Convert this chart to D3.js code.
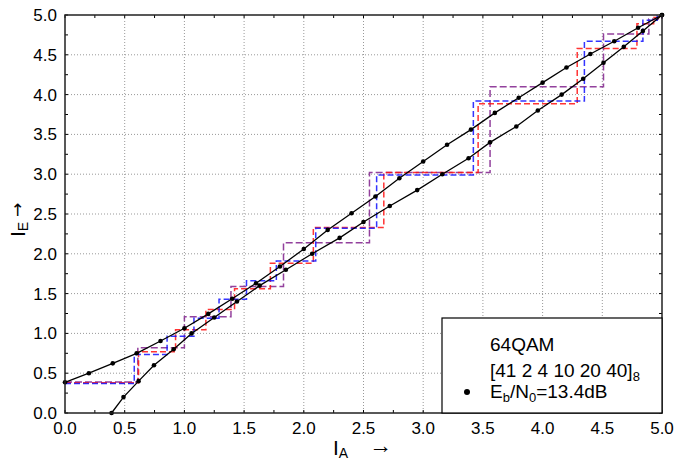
<!DOCTYPE html>
<html>
<head>
<meta charset="utf-8">
<script src="https://cdn.jsdelivr.net/npm/d3@7"></script>
<style>
  body { margin: 0; background: #fff; }
  text { font-family: "Liberation Sans", Arial, sans-serif; fill: #000; }
</style>
</head>
<body>
<div id="chart"></div>
<script>
// EXIT chart data
const gridVals = [0, 0.2, 0.4, 0.6, 0.8, 1.0, 1.2, 1.4, 1.6, 1.8, 2.0, 2.2, 2.4,
  2.6, 2.8, 3.0, 3.2, 3.4, 3.6, 3.8, 4.0, 4.2, 4.4, 4.6, 4.8, 5.0];
// demapper curve: IE at each IA of gridVals
const demapIE = [0.386, 0.50, 0.624, 0.75, 0.905, 1.065, 1.245, 1.435, 1.63, 1.84,
  2.06, 2.30, 2.51, 2.72, 2.95, 3.16, 3.37, 3.56, 3.77, 3.96, 4.15, 4.34, 4.51, 4.67, 4.84, 5.0];
// decoder curve (axes swapped): IA at each IE of gridVals
const decIA = [0.39, 0.49, 0.616, 0.745, 0.91, 1.06, 1.25, 1.44, 1.63, 1.85,
  2.07, 2.30, 2.50, 2.72, 2.95, 3.16, 3.38, 3.56, 3.78, 3.96, 4.16, 4.34, 4.51, 4.68, 4.84, 5.0];

// trajectories: corner values, drawn as steps
const blueIA = [0, 0.58, 0.855, 1.08, 1.29, 1.52, 1.77, 2.10, 2.61, 3.42, 4.35, 4.84, 4.96, 5.0];
const blueIE = [0.37, 0.735, 0.965, 1.19, 1.43, 1.66, 1.91, 2.32, 2.99, 3.92, 4.67, 4.935, 4.99, 5.0];
const redIA = [0, 0.616, 0.926, 1.18, 1.42, 1.72, 2.08, 2.67, 3.46, 4.29, 4.79, 4.93, 5.0];
const redIE = [0.38, 0.77, 1.045, 1.30, 1.56, 1.88, 2.33, 3.02, 3.885, 4.58, 4.89, 4.97, 5.0];
const purpleIA = [0, 0.61, 1.0, 1.39, 1.83, 2.55, 3.56, 4.51, 4.89, 5.0];
const purpleIE = [0.39, 0.82, 1.21, 1.59, 2.14, 3.02, 4.10, 4.76, 4.95, 5.0];

const majorTicks = [0, 0.5, 1.0, 1.5, 2.0, 2.5, 3.0, 3.5, 4.0, 4.5, 5.0];
const minorTicks = d3.range(0, 5.001, 0.25);

const chart = {
  margin: { top: 15, right: 15, bottom: 49, left: 65 },
  width: 597,
  height: 398
};

const svg = d3.select("#chart")
  .append("svg")
  .attr("width", 677)
  .attr("height", 462)
  .append("g")
  .attr("transform", "translate(" + chart.margin.left + "," + chart.margin.top + ")");

const x = d3.scaleLinear().domain([0, 5]).range([0, chart.width]);
const y = d3.scaleLinear().domain([0, 5]).range([chart.height, 0]);

// dotted grid
svg.append("g")
  .selectAll("line.gx")
  .data(majorTicks.slice(1, -1))
  .enter()
  .append("line")
  .attr("x1", d => x(d)).attr("x2", d => x(d))
  .attr("y1", 0).attr("y2", chart.height)
  .attr("stroke", "#999").attr("stroke-dasharray", "1,2");

svg.append("g")
  .selectAll("line.gy")
  .data(majorTicks.slice(1, -1))
  .enter()
  .append("line")
  .attr("x1", 0).attr("x2", chart.width)
  .attr("y1", d => y(d)).attr("y2", d => y(d))
  .attr("stroke", "#999").attr("stroke-dasharray", "1,2");

// trajectories
const stepLine = d3.line()
  .x(d => x(d[0]))
  .y(d => y(d[1]))
  .curve(d3.curveStepAfter);

const trajectories = [
  { ia: purpleIA, ie: purpleIE, color: "#80208c", dash: "7,3" },
  { ia: redIA, ie: redIE, color: "#ff1010", dash: "6,3" },
  { ia: blueIA, ie: blueIE, color: "#1010ff", dash: "6,3" }
];

trajectories.forEach(t => {
  const pts = t.ia.map((v, i) => [v, t.ie[i]]);
  svg.append("path")
    .attr("d", stepLine(pts))
    .attr("fill", "none")
    .attr("stroke", t.color)
    .attr("stroke-width", 1.5)
    .attr("stroke-opacity", 0.85)
    .attr("stroke-dasharray", t.dash);
});

// black curves with markers
const demapPts = gridVals.map((v, i) => [v, demapIE[i]]);
const decPts = gridVals.map((v, i) => [decIA[i], v]);

const line = d3.line().x(d => x(d[0])).y(d => y(d[1]));

[demapPts, decPts].forEach(pts => {
  svg.append("path")
    .attr("d", line(pts))
    .attr("fill", "none")
    .attr("stroke", "#000")
    .attr("stroke-width", 1.3);

  svg.append("g")
    .selectAll("circle")
    .data(pts)
    .enter()
    .append("circle")
    .attr("cx", d => x(d[0]))
    .attr("cy", d => y(d[1]))
    .attr("r", 2.3)
    .attr("fill", "#000");
});

// ticks on all four sides, pointing inward
const tickG = svg.append("g").attr("stroke", "#000").attr("stroke-width", 1);
minorTicks.forEach(t => {
  tickG.append("line").attr("x1", x(t)).attr("x2", x(t)).attr("y1", chart.height).attr("y2", chart.height - 3);
  tickG.append("line").attr("x1", x(t)).attr("x2", x(t)).attr("y1", 0).attr("y2", 3);
  tickG.append("line").attr("x1", 0).attr("x2", 3).attr("y1", y(t)).attr("y2", y(t));
  tickG.append("line").attr("x1", chart.width).attr("x2", chart.width - 3).attr("y1", y(t)).attr("y2", y(t));
});

// frame
svg.append("rect")
  .attr("width", chart.width)
  .attr("height", chart.height)
  .attr("fill", "none")
  .attr("stroke", "#222")
  .attr("stroke-width", 1.5);

// tick labels
svg.append("g")
  .selectAll("text")
  .data(majorTicks)
  .enter()
  .append("text")
  .attr("x", d => x(d))
  .attr("y", chart.height + 21)
  .attr("text-anchor", "middle")
  .attr("font-size", "17px")
  .text(d => d3.format(".1f")(d));

svg.append("g")
  .selectAll("text")
  .data(majorTicks)
  .enter()
  .append("text")
  .attr("x", -8)
  .attr("y", d => y(d) + 6)
  .attr("text-anchor", "end")
  .attr("font-size", "17px")
  .text(d => d3.format(".1f")(d));

// X label
const xl = svg.append("text")
  .attr("x", 268)
  .attr("y", chart.height + 42)
  .attr("font-size", "21px");
xl.append("tspan").text("I");
xl.append("tspan").attr("font-size", "14px").attr("dy", 3).text("A");
svg.append("text")
  .attr("x", 304)
  .attr("y", chart.height + 40)
  .attr("font-size", "23px")
  .text("\u2192");

// Y label
const yl = svg.append("text")
  .attr("transform", "translate(-40," + 222 + ") rotate(-90)")
  .attr("font-size", "21px");
yl.append("tspan").text("I");
yl.append("tspan").attr("font-size", "14px").attr("dy", 3).text("E");
svg.append("text")
  .attr("transform", "translate(-42," + 202 + ") rotate(-90)")
  .style("font-family", "'DejaVu Sans', sans-serif")
  .attr("font-size", "17px")
  .text("\u2192");

// legend box
const legend = svg.append("g")
  .attr("transform", "translate(" + (442 - chart.margin.left) + "," + (318 - chart.margin.top) + ")");

legend.append("rect")
  .attr("width", 662 - 442)
  .attr("height", 413 - 318)
  .attr("fill", "#fff")
  .attr("stroke", "#000")
  .attr("stroke-width", 1.2);

legend.append("text")
  .attr("x", 48).attr("y", 33)
  .attr("font-size", "19px")
  .text("64QAM");

const l2 = legend.append("text")
  .attr("x", 48).attr("y", 59)
  .attr("font-size", "19px");
l2.append("tspan").text("[41 2 4 10 20 40]");
l2.append("tspan").attr("font-size", "13px").attr("dy", 4).text("8");

legend.append("circle")
  .attr("cx", 25).attr("cy", 74)
  .attr("r", 3)
  .attr("fill", "#000");

const l3 = legend.append("text")
  .attr("x", 48).attr("y", 80)
  .attr("font-size", "19px");
l3.append("tspan").text("E");
l3.append("tspan").attr("font-size", "13px").attr("dy", 4).text("b");
l3.append("tspan").attr("dy", -4).text("/N");
l3.append("tspan").attr("font-size", "13px").attr("dy", 4).text("0");
l3.append("tspan").attr("dy", -4).text("=13.4dB");
</script>
</body>
</html>
